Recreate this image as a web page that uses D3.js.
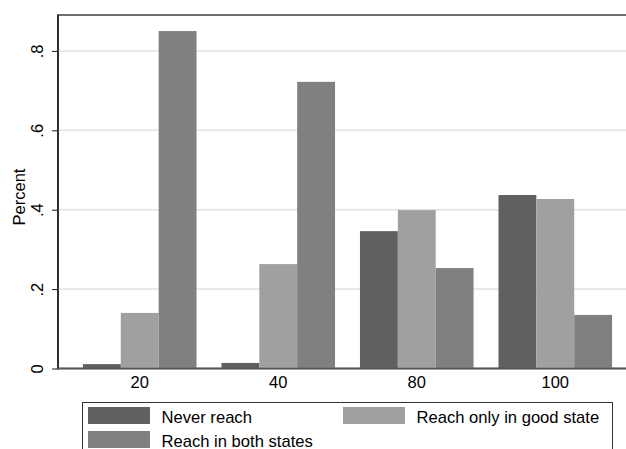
<!DOCTYPE html>
<html><head><meta charset="utf-8">
<script src="https://cdn.jsdelivr.net/npm/d3@7"></script>
<style>body{margin:0;background:#fff}svg{display:block}text{font-family:"Liberation Sans",Arial,sans-serif}</style>
</head><body>
<script>
const categories = ["20","40","80","100"];
const seriesNames = ["Never reach","Reach only in good state","Reach in both states"];
const neverReach = [0.011, 0.014, 0.346, 0.437];
const reachGood = [0.140, 0.263, 0.399, 0.427];
const reachBoth = [0.850, 0.722, 0.253, 0.135];
const yTicks = [0, 0.2, 0.4, 0.6, 0.8];
const yTickLabels = ["0", ".2", ".4", ".6", ".8"];
const colors = ["#606060", "#a0a0a0", "#808080"];

const W = 626, H = 449;
const svg = d3.select("body").append("svg").attr("width", W).attr("height", H);
const pL = 58, pR = 637, pT = 15, pB = 368.5;

const x = d3.scaleBand().domain(categories).range([pL, pR]).paddingInner(0.18).paddingOuter(0.18);
const xs = d3.scaleBand().domain(d3.range(3)).range([0, x.bandwidth()]);
const y = d3.scaleLinear().domain([0, 1]).range([pB, pB - 397]);

// frame
svg.append("rect").attr("x", pL).attr("y", pT).attr("width", pR - pL).attr("height", pB - pT)
  .attr("fill", "none").attr("stroke", "#707070").attr("stroke-width", 2);

// gridlines
svg.append("g").selectAll("line").data(yTicks.slice(1)).join("line")
  .attr("x1", pL).attr("x2", pR).attr("y1", d => y(d)).attr("y2", d => y(d))
  .attr("stroke", "#e2e2e2").attr("stroke-width", 1.5);

// bars
const data = [neverReach, reachGood, reachBoth];
data.forEach((vals, s) => {
  svg.append("g").selectAll("rect").data(vals).join("rect")
    .attr("x", (d, i) => x(categories[i]) + xs(s))
    .attr("width", xs.bandwidth())
    .attr("y", d => y(d))
    .attr("height", d => y(0) - y(d))
    .attr("fill", colors[s]);
});

// y axis
const yAxis = d3.axisLeft(y).tickValues(yTicks).tickFormat((d, i) => yTickLabels[i]).tickSize(6).tickPadding(0);
const gy = svg.append("g").attr("transform", `translate(${pL},0)`).call(yAxis);
gy.select(".domain").attr("stroke", "#1a1a1a").attr("stroke-width", 1.5).attr("d", `M0,${pT}V${pB}`);
gy.selectAll(".tick line").attr("stroke", "#1a1a1a");
gy.selectAll(".tick text").attr("transform", "rotate(-90)").attr("x", 0).attr("y", -15).attr("dy", 0)
  .attr("text-anchor", "middle").attr("font-size", 16.5).attr("fill", "#000");

// x axis
const xAxis = d3.axisBottom(x).tickSize(0).tickPadding(0);
const gx = svg.append("g").attr("transform", `translate(0,${pB})`).call(xAxis);
gx.select(".domain").attr("stroke", "#555").attr("stroke-width", 1.5).attr("d", `M${pL},0H${pR}`);
gx.selectAll(".tick text").attr("y", 19).attr("dy", 0).attr("font-size", 16.5).attr("fill", "#000");

// y title
svg.append("text").attr("transform", `translate(25,197) rotate(-90)`)
  .attr("text-anchor", "middle").attr("font-size", 16.5).text("Percent");

// legend
const lg = svg.append("g");
lg.append("rect").attr("x", 82.5).attr("y", 402.5).attr("width", 530).attr("height", 60)
  .attr("fill", "#fff").attr("stroke", "#333").attr("stroke-width", 1);
const legPos = [[88, 407], [343, 407], [88, 431]];
seriesNames.forEach((n, i) => {
  const [lx, ly] = legPos[i];
  lg.append("rect").attr("x", lx).attr("y", ly).attr("width", 62).attr("height", 17).attr("fill", colors[i]);
  lg.append("text").attr("x", lx + 73.5).attr("y", ly + 15.5).attr("font-size", 16.6).text(n);
});
</script>
</body></html>
